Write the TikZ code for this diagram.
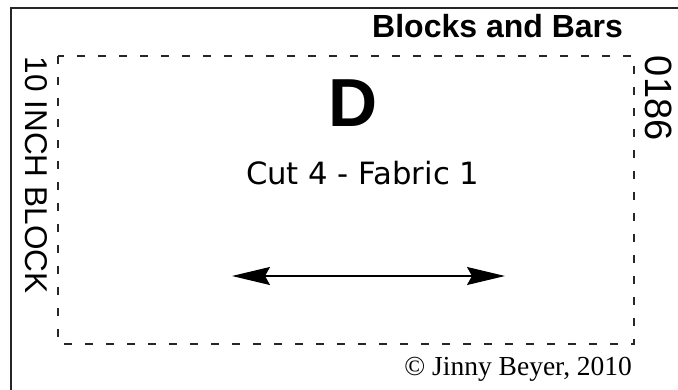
\documentclass[tikz,border=0pt]{standalone}
\usepackage{fontspec}
\setmainfont{Liberation Serif}
\setsansfont{Liberation Sans}
\newfontfamily\cutfont{DejaVu Sans}
\usetikzlibrary{arrows.meta}

\begin{document}
\begin{tikzpicture}[x=1pt, y=-1pt,
  txt/.style={inner sep=0pt, outer sep=0pt},
  cutline/.style={line width=2.6pt, color=black!85, dash pattern=on 8pt off 13pt},
  grain/.style={line width=1.4pt, {Stealth[length=38pt,width=18pt,inset=5pt]}-{Stealth[length=38pt,width=18pt,inset=5pt]}}]
  \useasboundingbox (0,0) rectangle (678,390);
  \draw[line width=2.6pt, black!85] (678,8) -- (11,8) -- (11,390); %outer frame
  \draw[cutline] (58,56) rectangle (634,344); %seam line
  \node[txt, anchor=base east, font=\sffamily\bfseries\fontsize{32}{32}\selectfont] (title) at (623,38) {Blocks and Bars};
  \node[txt, anchor=base, font=\sffamily\bfseries\fontsize{68}{68}\selectfont] (letter) at (353,127) {D};
  \node[txt, anchor=base west, font=\cutfont\fontsize{30.7}{30.7}\selectfont] (cut) at (246,185) {Cut 4 - Fabric 1};
  \node[txt, anchor=base west, rotate=-90, font=\sffamily\fontsize{31.5}{31.5}\selectfont] (size) at (25,57) {10 INCH BLOCK};
  \node[txt, anchor=base west, rotate=-90, font=\sffamily\fontsize{38}{38}\selectfont] (number) at (645,56) {0186};
  \node[txt, anchor=base east, font=\rmfamily\fontsize{27.5}{27.5}\selectfont] (copy) at (632,375) {© Jinny Beyer, 2010};
  \coordinate (grainL) at (232,276);
  \coordinate (grainR) at (505,276);
  \draw[grain] (grainL) -- (grainR);
\end{tikzpicture}
\end{document}
